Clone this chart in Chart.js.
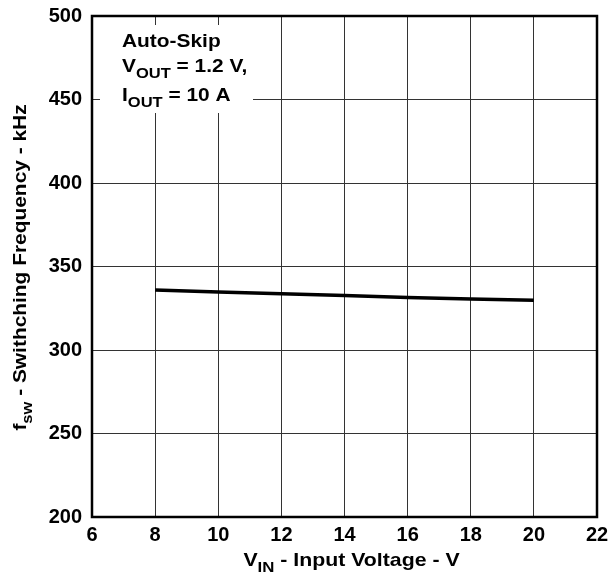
<!DOCTYPE html>
<html lang="en">
<head>
  <meta charset="UTF-8" />
  <title>Switching Frequency vs Input Voltage</title>
  <script src="https://cdn.jsdelivr.net/npm/chart.js"></script>
  <style>
    body {
      margin: 0;
      background: #fff;
    }
    .wrap {
      width: 608px;
      height: 580px;
    }
  </style>
</head>
<body>
  <div class="wrap">
    <canvas id="fsw"></canvas>
  </div>

  <script>
    // values
    const vin = [8, 10, 12, 14, 16, 18, 20];
    const fsw = [336, 334.8, 333.7, 332.6, 331.4, 330.5, 329.8];

    const xMin = 6, xMax = 22, xStep = 2;
    const yMin = 200, yMax = 500, yStep = 50;

    const FONT = "'Liberation Sans', Arial, sans-serif";

    // draws text made of normal + subscript pieces, slightly stretched like the original
    function richText(ctx, parts, x, y, size, align, stretch) {
      const sx = stretch || 1;
      const subSize = Math.round(size * 0.8);
      let total = 0;
      parts.forEach(p => {
        ctx.font = 'bold ' + (p.sub ? subSize : size) + 'px ' + FONT;
        p.w = ctx.measureText(p.t).width;
        total += p.w;
      });
      ctx.save();
      ctx.translate(x, y);
      ctx.scale(sx, 1);
      let cx = align === 'center' ? -total / 2 : 0;
      ctx.textBaseline = 'alphabetic';
      ctx.textAlign = 'left';
      parts.forEach(p => {
        ctx.font = 'bold ' + (p.sub ? subSize : size) + 'px ' + FONT;
        ctx.fillText(p.t, cx, p.sub ? 6 : 0);
        cx += p.w;
      });
      ctx.restore();
    }

    const decorations = {
      id: 'decorations',
      afterDatasetsDraw(chart) {
        const ctx = chart.ctx;
        const a = chart.chartArea;
        ctx.save();

        // frame
        ctx.strokeStyle = '#000';
        ctx.lineWidth = 2.5;
        ctx.strokeRect(a.left, a.top, a.right - a.left, a.bottom - a.top);

        // condition box
        ctx.fillStyle = '#fff';
        ctx.fillRect(a.left + 8, a.top + 9, 153, 88);
        ctx.fillStyle = '#000';
        const tx = a.left + 30;
        richText(ctx, [{ t: 'Auto-Skip' }], tx, a.top + 31, 19, 'left', 1.1);
        richText(ctx, [{ t: 'V' }, { t: 'OUT', sub: true }, { t: ' = 1.2 V,' }], tx, a.top + 56, 19, 'left', 1.1);
        richText(ctx, [{ t: 'I' }, { t: 'OUT', sub: true }, { t: ' = 10 A' }], tx, a.top + 85, 19, 'left', 1.1);

        // x axis title
        richText(ctx, [{ t: 'V' }, { t: 'IN', sub: true }, { t: ' - Input Voltage - V' }],
          (a.left + a.right) / 2 + 7, 566, 19, 'center', 1.12);

        // y axis title
        ctx.translate(26, (a.top + a.bottom) / 2 + 1);
        ctx.rotate(-Math.PI / 2);
        richText(ctx, [{ t: 'f' }, { t: 'sw', sub: true }, { t: ' - Swithching Frequency - kHz' }],
          0, 0, 19, 'center', 1.1);

        ctx.restore();
      }
    };

    new Chart(document.getElementById('fsw'), {
      type: 'line',
      data: {
        datasets: [{
          data: vin.map((v, i) => ({ x: v, y: fsw[i] })),
          borderColor: '#000',
          borderWidth: 3.5,
          pointRadius: 0,
          tension: 0,
          fill: false
        }]
      },
      options: {
        responsive: true,
        maintainAspectRatio: false,
        animation: false,
        layout: { padding: { top: 16, right: 11, left: 0, bottom: 0 } },
        plugins: {
          legend: { display: false },
          tooltip: { enabled: false }
        },
        scales: {
          x: {
            type: 'linear',
            min: xMin,
            max: xMax,
            afterFit(scale) {
              scale.height = 63;
              scale.paddingLeft = 0;
              scale.paddingRight = 0;
            },
            ticks: {
              stepSize: xStep,
              color: '#000',
              padding: 6,
              font: { family: FONT, size: 20, weight: 'bold' }
            },
            grid: { color: '#333', lineWidth: 1, drawTicks: false },
            border: { display: false }
          },
          y: {
            min: yMin,
            max: yMax,
            afterFit(scale) {
              scale.width = 92;
              scale.paddingTop = 0;
              scale.paddingBottom = 0;
            },
            ticks: {
              stepSize: yStep,
              color: '#000',
              padding: 10,
              font: { family: FONT, size: 20, weight: 'bold' }
            },
            grid: { color: '#333', lineWidth: 1, drawTicks: false },
            border: { display: false }
          }
        }
      },
      plugins: [decorations]
    });
  </script>
</body>
</html>
